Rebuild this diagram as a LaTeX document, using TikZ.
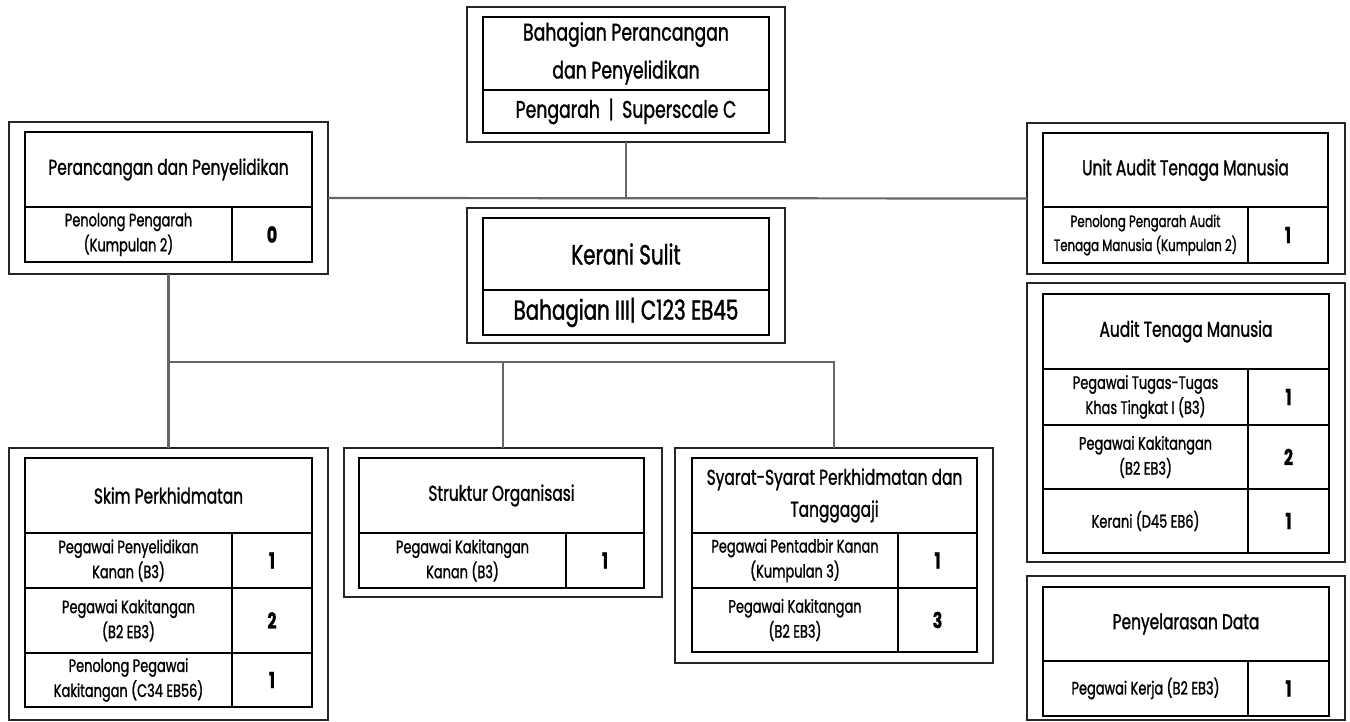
\documentclass[tikz,border=0pt]{standalone}
\usepackage{fontspec}
\setmainfont{Poppins}[FakeStretch=0.72, FakeBold=1.2]
\usepackage{tikz}
\usetikzlibrary{positioning}
\tikzset{%
	outer/.style = {name = #1, draw = black!85, line width = 0.9pt, anchor = north west, inner sep = 0pt, outer sep = 0pt},
	cell/.style = {name = #1, draw, line width = 0.75pt, anchor = north west, inner sep = 0pt, outer sep = 0pt, align = center},
	head/.style = {font = \fontsize{10.7}{16}\selectfont},
	big/.style = {font = \fontsize{12}{19}\selectfont},
	huge/.style = {font = \fontsize{13.8}{19}\selectfont},
	small/.style = {font = \fontsize{9}{12.5}\selectfont},
	tiny/.style = {font = \fontsize{8.2}{12}\selectfont},
	num/.style = {font = \fontsize{11}{13}\selectfont\bfseries},
	link/.style = {draw = black!60, line width = 1.1pt}
}

\begin{document}
\begin{tikzpicture}[x = 0.5pt, y = -0.5pt]
	\useasboundingbox (0,0) rectangle (1350,722);

	% Bahagian Perancangan dan Penyelidikan
	\node [outer = bpp, minimum width = 159pt, minimum height = 67.5pt] at (467,7) {};
	\node [cell = bpp-h, big, minimum width = 143pt, minimum height = 36.5pt] at (483,17) {Bahagian Perancangan\\dan Penyelidikan};
	\node [cell = bpp-r, big, minimum width = 143pt, minimum height = 21.5pt] at (483,90) {Pengarah \,|\, Superscale C};

	% Kerani Sulit
	\node [outer = ks, minimum width = 159pt, minimum height = 67.5pt] at (467,208) {};
	\node [cell = ks-h, huge, minimum width = 143pt, minimum height = 36pt] at (483,218) {Kerani Sulit};
	\node [cell = ks-r, huge, minimum width = 143pt, minimum height = 22.5pt] at (483,290) {Bahagian III| C123 EB45};

	% Perancangan dan Penyelidikan
	\node [outer = pdp, minimum width = 159.5pt, minimum height = 76pt] at (9,122) {};
	\node [cell = pdp-h, head, minimum width = 143.5pt, minimum height = 37.5pt] at (25,132) {Perancangan dan Penyelidikan};
	\node [cell = pdp-n1, small, minimum width = 103.5pt, minimum height = 27.5pt] at (25,207) {Penolong Pengarah\\(Kumpulan 2)};
	\node [cell = pdp-c1, num, minimum width = 40pt, minimum height = 27.5pt] at (232,207) {0};

	% Unit Audit Tenaga Manusia
	\node [outer = uatm, minimum width = 159pt, minimum height = 75.5pt] at (1027,123) {};
	\node [cell = uatm-h, head, minimum width = 142.5pt, minimum height = 37pt] at (1043,133) {Unit Audit Tenaga Manusia};
	\node [cell = uatm-n1, tiny, minimum width = 102.5pt, minimum height = 28pt] at (1043,207) {Penolong Pengarah Audit\\Tenaga Manusia (Kumpulan 2)};
	\node [cell = uatm-c1, num, minimum width = 40pt, minimum height = 28pt] at (1248,207) {1};

	% Audit Tenaga Manusia
	\node [outer = atm, minimum width = 159pt, minimum height = 139.5pt] at (1027,283) {};
	\node [cell = atm-h, head, minimum width = 143pt, minimum height = 37.5pt] at (1043,294) {Audit Tenaga Manusia};
	\node [cell = atm-n1, small, minimum width = 102.5pt, minimum height = 28pt] at (1043,369) {Pegawai Tugas-Tugas\\Khas Tingkat I (B3)};
	\node [cell = atm-c1, num, minimum width = 40.5pt, minimum height = 28pt] at (1248,369) {1};
	\node [cell = atm-n2, small, minimum width = 102.5pt, minimum height = 32pt] at (1043,425) {Pegawai Kakitangan\\(B2 EB3)};
	\node [cell = atm-c2, num, minimum width = 40.5pt, minimum height = 32pt] at (1248,425) {2};
	\node [cell = atm-n3, small, minimum width = 102.5pt, minimum height = 32pt] at (1043,489) {Kerani (D45 EB6)};
	\node [cell = atm-c3, num, minimum width = 40.5pt, minimum height = 32pt] at (1248,489) {1};

	% Penyelarasan Data
	\node [outer = pd, minimum width = 159pt, minimum height = 72pt] at (1027,576) {};
	\node [cell = pd-h, head, minimum width = 143pt, minimum height = 37pt] at (1043,587) {Penyelarasan Data};
	\node [cell = pd-n1, small, minimum width = 102.5pt, minimum height = 27.5pt] at (1043,661) {Pegawai Kerja (B2 EB3)};
	\node [cell = pd-c1, num, minimum width = 40.5pt, minimum height = 27.5pt] at (1248,661) {1};

	% Skim Perkhidmatan
	\node [outer = skim, minimum width = 159.5pt, minimum height = 136pt] at (9,448) {};
	\node [cell = skim-h, head, minimum width = 143.5pt, minimum height = 37.5pt] at (25,458) {Skim Perkhidmatan};
	\node [cell = skim-n1, small, minimum width = 103.5pt, minimum height = 27.5pt] at (25,533) {Pegawai Penyelidikan\\Kanan (B3)};
	\node [cell = skim-c1, num, minimum width = 40pt, minimum height = 27.5pt] at (232,533) {1};
	\node [cell = skim-n2, small, minimum width = 103.5pt, minimum height = 32.5pt] at (25,588) {Pegawai Kakitangan\\(B2 EB3)};
	\node [cell = skim-c2, num, minimum width = 40pt, minimum height = 32.5pt] at (232,588) {2};
	\node [cell = skim-n3, small, minimum width = 103.5pt, minimum height = 27pt] at (25,653) {Penolong Pegawai\\Kakitangan (C34 EB56)};
	\node [cell = skim-c3, num, minimum width = 40pt, minimum height = 27pt] at (232,653) {1};

	% Struktur Organisasi
	\node [outer = so, minimum width = 159pt, minimum height = 74.5pt] at (344,448) {};
	\node [cell = so-h, head, minimum width = 142.5pt, minimum height = 37.5pt] at (359,458) {Struktur Organisasi};
	\node [cell = so-n1, small, minimum width = 103.5pt, minimum height = 27.5pt] at (359,533) {Pegawai Kakitangan\\Kanan (B3)};
	\node [cell = so-c1, num, minimum width = 39pt, minimum height = 27.5pt] at (566,533) {1};

	% Syarat-Syarat Perkhidmatan dan Tanggagaji
	\node [outer = sp, minimum width = 159pt, minimum height = 107.5pt] at (675,448) {};
	\node [cell = sp-h, head, minimum width = 142.5pt, minimum height = 37.5pt] at (692,458) {Syarat-Syarat Perkhidmatan dan\\Tanggagaji};
	\node [cell = sp-n1, small, minimum width = 103pt, minimum height = 27.5pt] at (692,533) {Pegawai Pentadbir Kanan\\(Kumpulan 3)};
	\node [cell = sp-c1, num, minimum width = 39.5pt, minimum height = 27.5pt] at (898,533) {1};
	\node [cell = sp-n2, small, minimum width = 103pt, minimum height = 32pt] at (692,588) {Pegawai Kakitangan\\(B2 EB3)};
	\node [cell = sp-c2, num, minimum width = 39.5pt, minimum height = 32pt] at (898,588) {3};

	% connectors
	\coordinate (bus) at (168.5,362);
	\path [link] (pdp.east) -- (uatm.west);
	\path [link] (bpp.south) -- (bpp.south |- pdp.east);
	\path [link] (pdp.south) -- (bus) -| (sp.north);
	\path [link] (bus) -- (skim.north);
	\path [link] (bus -| so.north) -- (so.north);
\end{tikzpicture}
\end{document}
